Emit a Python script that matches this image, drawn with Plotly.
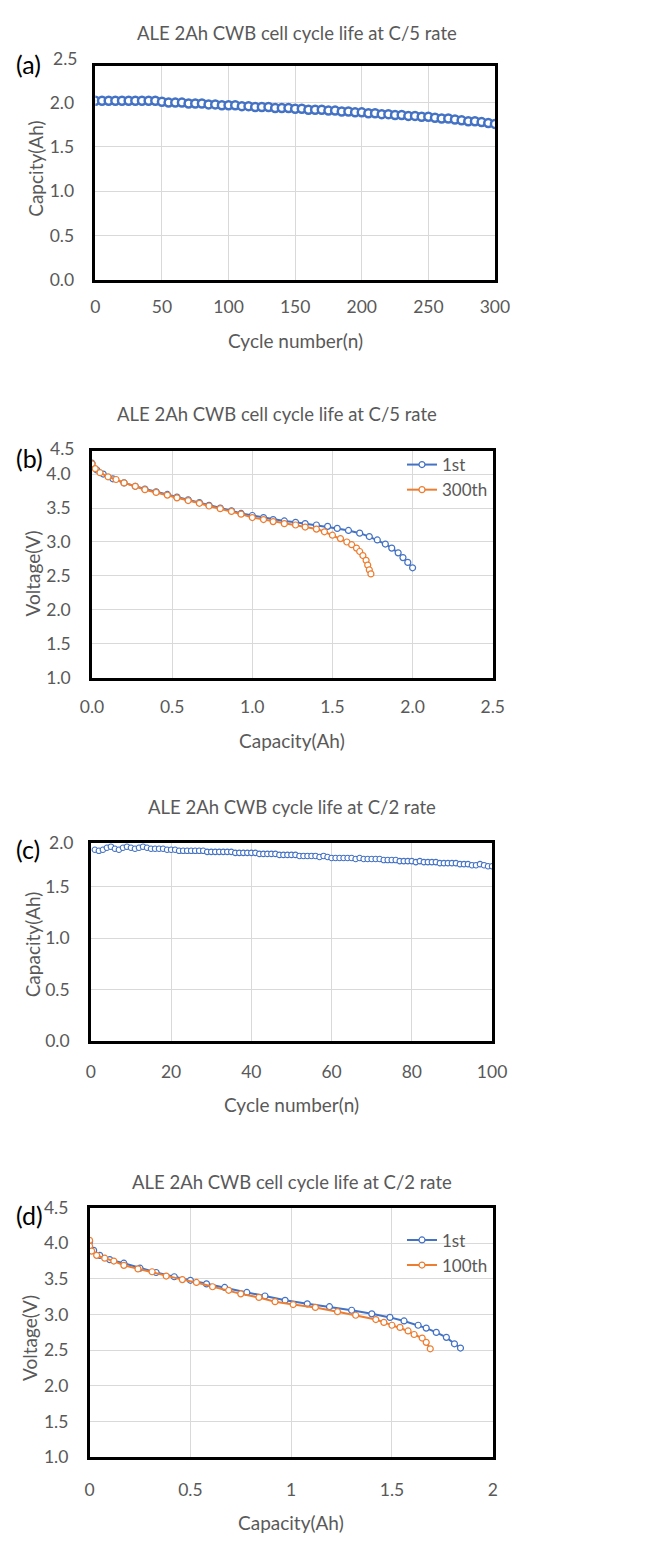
import plotly.graph_objects as go

PAGE_W, PAGE_H = 646, 1552
OFF = 0
W, H = PAGE_W - 2 * OFF, PAGE_H - 2 * OFF
BLUE = "#4472C4"
ORANGE = "#ED7D31"
GRID = "#D9D9D9"
TXT = "#595959"
FONT = "Lato"

# ---------------- data ----------------
# (a) C/5 cycle life
a_cycle = list(range(0, 301, 5))
a_cap = [2.02, 2.02, 2.02, 2.02, 2.02, 2.02, 2.02, 2.02, 2.02, 2.02,
         2.01, 2.00, 2.00, 2.00, 1.99, 1.99, 1.99, 1.98, 1.98, 1.97,
         1.97, 1.97, 1.96, 1.96, 1.95, 1.95, 1.95, 1.94, 1.94, 1.94,
         1.93, 1.93, 1.92, 1.92, 1.92, 1.91, 1.91, 1.90, 1.90, 1.89,
         1.89, 1.88, 1.88, 1.87, 1.87, 1.86, 1.86, 1.85, 1.85, 1.84,
         1.84, 1.83, 1.82, 1.82, 1.81, 1.80, 1.79, 1.79, 1.78, 1.77,
         1.76]

# (b) C/5 discharge curves
b_cap_1st = [0.0, 0.03, 0.07, 0.13, 0.2, 0.27, 0.33, 0.4, 0.47, 0.53, 0.6, 0.67,
             0.73, 0.8, 0.87, 0.93, 1.0, 1.07, 1.13, 1.2, 1.27, 1.33, 1.4, 1.47,
             1.53, 1.6, 1.67, 1.73, 1.78, 1.83, 1.87, 1.91, 1.94, 1.97, 2.0]
b_v_1st = [4.16, 4.06, 4.00, 3.93, 3.87, 3.82, 3.78, 3.74, 3.70, 3.66, 3.62, 3.58,
           3.54, 3.50, 3.46, 3.42, 3.39, 3.36, 3.33, 3.31, 3.29, 3.27, 3.25, 3.23,
           3.20, 3.17, 3.13, 3.08, 3.03, 2.97, 2.91, 2.84, 2.77, 2.70, 2.62]
b_cap_300 = [0.0, 0.02, 0.05, 0.1, 0.15, 0.2, 0.27, 0.33, 0.4, 0.47, 0.53, 0.6,
             0.67, 0.73, 0.8, 0.87, 0.93, 1.0, 1.07, 1.13, 1.2, 1.27, 1.33, 1.4,
             1.45, 1.5, 1.55, 1.59, 1.62, 1.65, 1.67, 1.69, 1.71, 1.72, 1.73, 1.74]
b_v_300 = [4.15, 4.08, 4.02, 3.96, 3.92, 3.87, 3.82, 3.77, 3.73, 3.69, 3.65, 3.61,
           3.57, 3.53, 3.49, 3.45, 3.41, 3.36, 3.33, 3.30, 3.27, 3.25, 3.22, 3.19,
           3.15, 3.10, 3.05, 3.00, 2.96, 2.91, 2.86, 2.80, 2.73, 2.66, 2.59, 2.53]

# (c) C/2 cycle life
c_cycle = list(range(1, 101))
c_cap = [1.86, 1.85, 1.86, 1.88, 1.89, 1.87, 1.86, 1.88, 1.89, 1.88,
         1.87, 1.88, 1.89, 1.88, 1.87, 1.87, 1.87, 1.87, 1.86, 1.86,
         1.86, 1.85, 1.85, 1.85, 1.85, 1.85, 1.85, 1.85, 1.84, 1.84,
         1.84, 1.84, 1.84, 1.84, 1.84, 1.83, 1.83, 1.83, 1.83, 1.83,
         1.83, 1.82, 1.82, 1.82, 1.82, 1.82, 1.81, 1.81, 1.81, 1.81,
         1.81, 1.80, 1.80, 1.80, 1.80, 1.80, 1.79, 1.80, 1.79, 1.78,
         1.78, 1.78, 1.78, 1.78, 1.78, 1.77, 1.78, 1.77, 1.77, 1.77,
         1.77, 1.77, 1.76, 1.76, 1.76, 1.76, 1.75, 1.75, 1.75, 1.75,
         1.74, 1.75, 1.74, 1.74, 1.74, 1.74, 1.73, 1.73, 1.73, 1.73,
         1.73, 1.72, 1.72, 1.72, 1.71, 1.71, 1.72, 1.71, 1.70, 1.70]

# (d) C/2 discharge curves
d_cap_1st = [0.0, 0.02, 0.05, 0.1, 0.17, 0.25, 0.33, 0.42, 0.5, 0.58, 0.67, 0.78,
             0.87, 0.97, 1.08, 1.19, 1.3, 1.4, 1.49, 1.56, 1.63, 1.67, 1.72, 1.77,
             1.81, 1.84]
d_v_1st = [4.02, 3.90, 3.83, 3.77, 3.72, 3.65, 3.59, 3.53, 3.48, 3.43, 3.38, 3.31,
           3.26, 3.20, 3.15, 3.11, 3.06, 3.01, 2.96, 2.91, 2.85, 2.81, 2.75, 2.68,
           2.59, 2.53]
d_cap_100 = [0.0, 0.0, 0.01, 0.035, 0.075, 0.12, 0.17, 0.24, 0.31, 0.38, 0.46, 0.53,
             0.61, 0.69, 0.75, 0.84, 0.92, 1.01, 1.12, 1.23, 1.32, 1.42, 1.46, 1.50,
             1.54, 1.58, 1.61, 1.65, 1.67, 1.69]
d_v_100 = [4.04, 3.96, 3.89, 3.83, 3.79, 3.75, 3.69, 3.64, 3.60, 3.54, 3.49, 3.45,
           3.39, 3.34, 3.29, 3.24, 3.18, 3.14, 3.10, 3.04, 2.99, 2.93, 2.89, 2.85,
           2.82, 2.77, 2.72, 2.67, 2.61, 2.52]

titles = ["ALE 2Ah CWB cell cycle life at C/5 rate",
          "ALE 2Ah CWB cell cycle life at C/5 rate",
          "ALE 2Ah CWB cycle life at C/2 rate",
          "ALE 2Ah CWB cell cycle life at C/2 rate"]
panel_tags = ["(a)", "(b)", "(c)", "(d)"]
x_titles = ["Cycle number(n)", "Capacity(Ah)", "Cycle number(n)", "Capacity(Ah)"]
y_titles = ["Capcity(Ah)", "Voltage(V)", "Capacity(Ah)", "Voltage(V)"]
legend_b = ["1st", "300th"]
legend_d = ["1st", "100th"]


def px(x):
    return (x - OFF) / W


def py(y):
    return 1 - (y - OFF) / H


fig = go.Figure()


def marker(color, size=6, lw=1.2):
    return dict(symbol="circle", size=size, color="white",
                line=dict(color=color, width=lw))


# (a)
fig.add_trace(go.Scatter(x=a_cycle, y=a_cap, mode="lines+markers",
                         line=dict(color=BLUE, width=2.5),
                         marker=marker(BLUE, 8, 2.5), showlegend=False,
                         xaxis="x", yaxis="y"))
# (b)
fig.add_trace(go.Scatter(x=b_cap_1st, y=b_v_1st, mode="lines+markers", name=legend_b[0],
                         line=dict(color=BLUE, width=2), marker=marker(BLUE),
                         xaxis="x2", yaxis="y2", legend="legend"))
fig.add_trace(go.Scatter(x=b_cap_300, y=b_v_300, mode="lines+markers", name=legend_b[1],
                         line=dict(color=ORANGE, width=2), marker=marker(ORANGE),
                         xaxis="x2", yaxis="y2", legend="legend"))
# (c)
fig.add_trace(go.Scatter(x=c_cycle, y=c_cap, mode="lines+markers",
                         line=dict(color=BLUE, width=1),
                         marker=marker(BLUE, 5.5, 1.1), showlegend=False,
                         xaxis="x3", yaxis="y3"))
# (d)
fig.add_trace(go.Scatter(x=d_cap_1st, y=d_v_1st, mode="lines+markers", name=legend_d[0],
                         line=dict(color=BLUE, width=2), marker=marker(BLUE),
                         xaxis="x4", yaxis="y4", legend="legend2"))
fig.add_trace(go.Scatter(x=d_cap_100, y=d_v_100, mode="lines+markers", name=legend_d[1],
                         line=dict(color=ORANGE, width=2), marker=marker(ORANGE),
                         xaxis="x4", yaxis="y4", legend="legend2"))

# panel geometry (page pixels): x left/right, y bottom/top
panels = [
    dict(xl=87, xr=504, yb=272.7, yt=56, xrange=[0, 300], yrange=[0, 2.41],
         xt=[0, 50, 100, 150, 200, 250, 300], yt_=[0, 0.5, 1.0, 1.5, 2.0],
         xfmt="d", yfmt=".1f", extra=("2.5", 48), title_y=22, title_x=297,
         tag_y=54, xtitle_y=334, ytitle_x=25, ytitle_y=160, xstand=9),
    dict(xl=83.5, xr=501.7, yb=676, yt=446, xrange=[0, 2.5], yrange=[1.0, 4.34],
         xt=[0, 0.5, 1.0, 1.5, 2.0, 2.5], yt_=[1.0, 1.5, 2.0, 2.5, 3.0, 3.5, 4.0],
         xfmt=".1f", yfmt=".1f", extra=("4.5", 444), title_y=409, title_x=277,
         tag_y=453, xtitle_y=740, ytitle_x=21, ytitle_y=570, xstand=11),
    dict(xl=82.3, xr=501, yb=1044, yt=843, xrange=[0, 100], yrange=[0, 1.93],
         xt=[0, 20, 40, 60, 80, 100], yt_=[0, 0.5, 1.0, 1.5],
         xfmt="d", yfmt=".1f", extra=("2.0", 843), title_y=807, title_x=292,
         tag_y=849, xtitle_y=1109, ytitle_x=21, ytitle_y=946, xstand=13),
    dict(xl=81, xr=501.7, yb=1466, yt=1213, xrange=[0, 2], yrange=[1.0, 4.5],
         xt=[0, 0.5, 1, 1.5, 2], yt_=[1.0, 1.5, 2.0, 2.5, 3.0, 3.5, 4.0, 4.5],
         xfmt="", yfmt=".1f", extra=None, title_y=1187, title_x=292,
         tag_y=1221, xtitle_y=1532, ytitle_x=19, ytitle_y=1345, xstand=15),
]

tickfont = dict(family=FONT, size=17.5, color=TXT)
annotations = []
layout = {}
for i, p in enumerate(panels):
    sfx = "" if i == 0 else str(i + 1)
    layout["xaxis" + sfx] = dict(
        domain=[px(p["xl"]), px(p["xr"])], range=p["xrange"], anchor="y" + sfx,
        tickvals=p["xt"], tickformat=p["xfmt"], ticks="", showgrid=True,
        gridcolor=GRID, gridwidth=1, zeroline=False, showline=True,
        linecolor="black", linewidth=2.5, mirror=True, tickfont=tickfont,
        ticklabelstandoff=p["xstand"], fixedrange=True)
    layout["yaxis" + sfx] = dict(
        domain=[py(p["yb"]), py(p["yt"])], range=p["yrange"], anchor="x" + sfx,
        tickvals=p["yt_"], tickformat=p["yfmt"], ticks="", showgrid=True,
        gridcolor=GRID, gridwidth=1, zeroline=False, showline=True,
        linecolor="black", linewidth=2.5, mirror=True, tickfont=tickfont,
        ticklabelstandoff=15, fixedrange=True)
    annotations.append(dict(text=titles[i], x=px(p["title_x"]), y=py(p["title_y"]),
                            xref="paper", yref="paper", showarrow=False,
                            xanchor="center", yanchor="middle",
                            font=dict(family=FONT, size=18.5, color=TXT)))
    annotations.append(dict(text=panel_tags[i], x=px(2), y=py(p["tag_y"]),
                            xref="paper", yref="paper", showarrow=False,
                            xanchor="left", yanchor="middle",
                            font=dict(family=FONT, size=25, color="black")))
    annotations.append(dict(text=x_titles[i], x=px((p["xl"] + p["xr"]) / 2),
                            y=py(p["xtitle_y"]), xref="paper", yref="paper",
                            showarrow=False, xanchor="center", yanchor="middle",
                            font=dict(family=FONT, size=19, color=TXT)))
    annotations.append(dict(text=y_titles[i], x=px(p["ytitle_x"]), y=py(p["ytitle_y"]),
                            xref="paper", yref="paper", showarrow=False,
                            textangle=-90, xanchor="center", yanchor="middle",
                            font=dict(family=FONT, size=19, color=TXT)))
    if p["extra"]:
        annotations.append(dict(text=p["extra"][0], x=px(p["xl"] - 17),
                                y=py(p["extra"][1]), xref="paper", yref="paper",
                                showarrow=False, xanchor="right", yanchor="middle",
                                font=tickfont))

legend_style = dict(font=dict(family=FONT, size=17, color=TXT),
                    bgcolor="rgba(0,0,0,0)", borderwidth=0,
                    xanchor="left", yanchor="top", itemwidth=30)
layout["legend"] = dict(x=px(407), y=py(442), **legend_style)
layout["legend2"] = dict(x=px(407), y=py(1228), **legend_style)

fig.update_layout(width=W, height=H, margin=dict(l=0, r=0, t=0, b=0),
                  paper_bgcolor="white", plot_bgcolor="white",
                  annotations=annotations, **layout)

fig.write_html("out.html")
